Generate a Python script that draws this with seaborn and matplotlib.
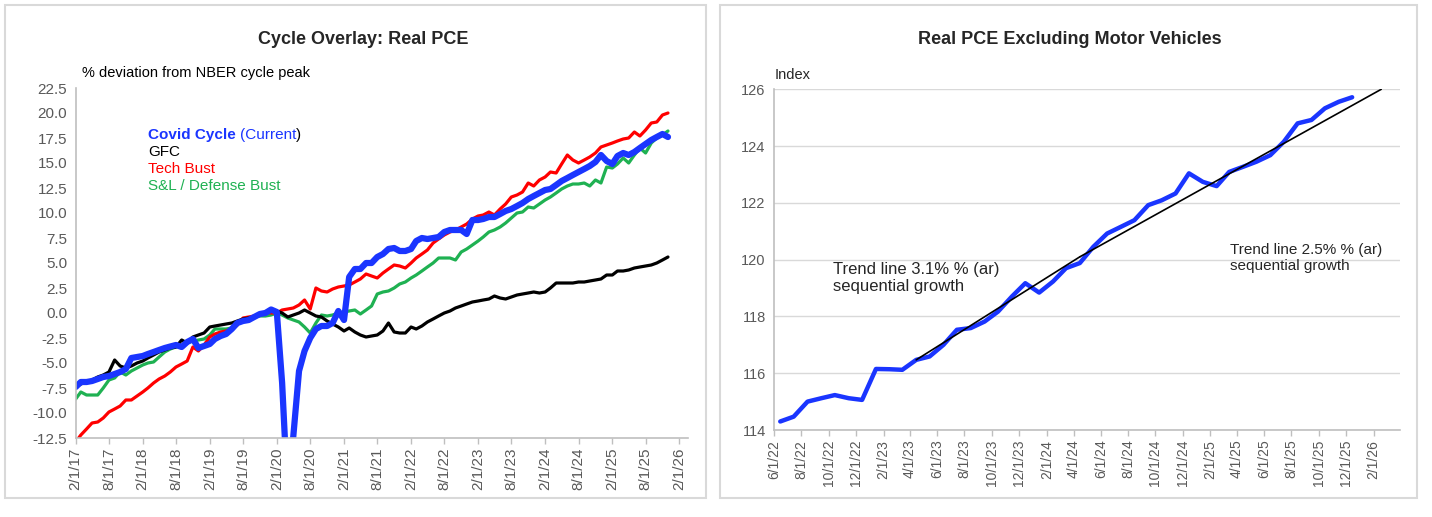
import pandas as pd
import seaborn as sns
import matplotlib.pyplot as plt
import matplotlib.dates as mdates
from matplotlib.patches import Rectangle
from matplotlib.ticker import FuncFormatter

# left panel: % deviation from NBER cycle peak, monthly from 2/1/17
covid = [-7.4, -6.9, -6.9, -6.8, -6.6, -6.4, -6.3, -6.1, -5.9, -5.6, -4.5, -4.4,
         -4.3, -4.1, -3.9, -3.7, -3.5, -3.35, -3.2, -3.4, -2.9, -2.6, -3.5, -3.3,
         -3.1, -2.6, -2.3, -2.1, -1.6, -1.0, -0.8, -0.7, -0.4, -0.1, 0.0, 0.35,
         0.1, -7.0, -18.5, -12.3, -5.8, -3.8, -2.5, -1.6, -1.3, -1.3, -1.0, 0.2,
         -0.7, 3.6, 4.4, 4.4, 5.0, 5.0, 5.6, 5.9, 6.4, 6.5, 6.2, 6.2,
         6.4, 7.2, 7.5, 7.4, 7.5, 7.6, 8.1, 8.3, 8.3, 8.3, 7.9, 9.3,
         9.3, 9.4, 9.6, 9.6, 9.9, 10.2, 10.4, 10.7, 11.0, 11.4, 11.7, 12.0,
         12.3, 12.4, 12.8, 13.2, 13.5, 13.8, 14.1, 14.4, 14.7, 15.1, 15.8, 15.2,
         14.9, 15.7, 16.0, 15.8, 16.1, 16.5, 16.9, 17.3, 17.6, 17.9, 17.6]
gfc = [-7.4, -7.1, -6.9, -6.7, -6.4, -6.2, -5.9, -4.7, -5.3, -5.5, -5.3, -5.0,
       -4.8, -4.5, -4.2, -3.9, -3.7, -3.5, -3.4, -2.7, -3.0, -2.4, -2.2, -2.0,
       -1.4, -1.3, -1.2, -1.1, -1.0, -0.8, -0.6, -0.5, -0.4, -0.2, 0.0, 0.2,
       0.2, 0.0, -0.4, -0.2, 0.0, 0.3, 0.0, -0.3, -0.4, -0.8, -1.1, -1.4,
       -1.8, -1.5, -1.9, -2.2, -2.4, -2.3, -2.2, -1.8, -1.0, -1.9, -2.0, -2.0,
       -1.4, -1.6, -1.3, -0.9, -0.6, -0.3, 0.0, 0.2, 0.5, 0.7, 0.9, 1.1,
       1.2, 1.3, 1.4, 1.7, 1.5, 1.4, 1.6, 1.8, 1.9, 2.0, 2.1, 2.0,
       2.1, 2.5, 3.0, 3.0, 3.0, 3.0, 3.1, 3.1, 3.2, 3.3, 3.4, 3.8,
       3.8, 4.2, 4.2, 4.3, 4.5, 4.6, 4.7, 4.8, 5.0, 5.3, 5.6]
tech = [-12.9, -12.2, -11.6, -11.0, -10.9, -10.5, -9.9, -9.6, -9.3, -8.7, -8.7, -8.3,
        -7.9, -7.5, -7.0, -6.6, -6.3, -5.9, -5.4, -5.1, -4.8, -3.4, -3.8, -3.2,
        -2.4, -2.1, -1.9, -1.8, -1.6, -1.2, -0.5, -0.4, -0.3, -0.1, 0.1, 0.0,
        0.0, 0.3, 0.4, 0.5, 0.8, 1.3, 0.4, 2.5, 2.2, 2.1, 2.4, 2.6,
        2.7, 2.8, 3.1, 3.4, 3.9, 3.7, 3.5, 4.0, 4.4, 4.8, 4.7, 4.5,
        5.0, 5.5, 5.9, 6.3, 7.0, 7.4, 7.8, 8.1, 8.3, 8.6, 8.9, 9.4,
        9.7, 9.8, 10.1, 9.8, 10.4, 10.9, 11.6, 11.8, 12.1, 13.0, 12.7, 13.3,
        13.6, 14.1, 14.0, 14.9, 15.8, 15.3, 15.0, 15.3, 15.6, 16.0, 16.6, 16.8,
        17.0, 17.2, 17.4, 17.5, 18.1, 17.7, 18.3, 19.0, 19.1, 19.8, 20.0]
snl = [-8.6, -7.9, -8.2, -8.2, -8.2, -7.5, -6.7, -6.5, -5.9, -6.2, -5.8, -5.5,
       -5.2, -5.0, -4.9, -4.4, -3.9, -3.6, -3.4, -3.3, -3.0, -2.8, -2.7, -2.6,
       -2.2, -1.6, -1.6, -1.6, -1.5, -0.9, -0.7, -0.7, -0.4, -0.3, -0.3, -0.2,
       0.0, -0.2, -0.5, -0.7, -0.9, -1.4, -2.0, -1.0, -0.2, -0.3, -0.2, 0.0,
       0.1, 0.2, 0.3, -0.1, 0.3, 0.7, 1.9, 2.1, 2.2, 2.5, 2.9, 3.1,
       3.5, 3.8, 4.2, 4.6, 5.0, 5.5, 5.5, 5.5, 5.3, 6.1, 6.4, 6.8,
       7.2, 7.6, 8.1, 8.3, 8.6, 9.0, 9.5, 10.0, 10.1, 10.6, 10.5, 10.9,
       11.3, 11.6, 12.0, 12.4, 12.7, 12.9, 12.9, 13.0, 12.7, 13.3, 13.0, 14.6,
       14.5, 14.9, 15.5, 15.0, 15.8, 16.5, 16.0, 17.0, 17.5, 17.8, 18.2]
months = pd.date_range('2017-02-01', periods=len(covid), freq='MS')

# right panel: real PCE excluding motor vehicles (index), plotted mid-month
pce_ex_mv = [114.3, 114.47, 115.0, 115.12, 115.23, 115.12, 115.06, 116.15, 116.14, 116.12,
             116.47, 116.59, 117.0, 117.53, 117.59, 117.82, 118.17, 118.7, 119.17, 118.84,
             119.23, 119.7, 119.88, 120.45, 120.92, 121.15, 121.39, 121.92, 122.09, 122.33,
             123.04, 122.74, 122.59, 123.09, 123.27, 123.45, 123.68, 124.15, 124.8, 124.92,
             125.33, 125.56, 125.72]
pce_dates = pd.date_range('2022-06-01', periods=len(pce_ex_mv), freq='MS') + pd.Timedelta(days=14)
trend1_dates = pd.to_datetime(['2023-04-15', '2024-04-15'])
trend1_vals = [116.47, 120.1]
trend2_dates = pd.to_datetime(['2024-04-15', '2026-02-18'])
trend2_vals = [120.1, 126.0]

sns.set_theme(style='white')
plt.rcParams['font.family'] = ['Liberation Sans', 'DejaVu Sans']
plt.rcParams['axes.unicode_minus'] = False

W, H = 1432, 517
fig = plt.figure(figsize=(W / 100, H / 100), dpi=100)
blue = '#1a35ff'
grey = '#595959'
axis_col = '#bfbfbf'


def fx(px):
    return px / W


def fy(py):
    return 1 - py / H


def date_fmt(x, pos):
    d = mdates.num2date(x)
    return f'{d.month}/{d.day}/{d.year % 100:02d}'


# panel frames
for x0, x1 in [(5, 706), (720, 1417)]:
    fig.patches.append(Rectangle((fx(x0), fy(498)), fx(x1 - x0), (498 - 5) / H,
                                 transform=fig.transFigure, fill=False,
                                 edgecolor='#d9d9d9', linewidth=1.5))

# ---------------- left panel ----------------
ax1 = fig.add_axes([fx(75.7), fy(438), fx(688 - 75.7), 350 / H])
sns.lineplot(x=months, y=snl, ax=ax1, color='#1fb152', linewidth=2.3)
sns.lineplot(x=months, y=tech, ax=ax1, color='#ff0000', linewidth=2.3)
sns.lineplot(x=months, y=gfc, ax=ax1, color='black', linewidth=2.3)
sns.lineplot(x=months, y=covid, ax=ax1, color=blue, linewidth=4.5)
ax1.set_ylim(-12.5, 22.5)
ax1.set_yticks([-12.5 + 2.5 * i for i in range(15)])
ax1.yaxis.set_major_formatter(FuncFormatter(lambda v, p: f'{v:.1f}'))
ax1.set_xlim(pd.Timestamp('2017-02-01'), pd.Timestamp('2026-03-20'))
ax1.set_xticks(pd.date_range('2017-02-01', '2026-02-01', freq='6MS'))
ax1.xaxis.set_major_formatter(FuncFormatter(date_fmt))
ax1.tick_params(axis='x', rotation=90, labelsize=11, colors=grey, length=4,
                width=1, direction='out', bottom=True, color=axis_col, pad=3)
ax1.tick_params(axis='y', labelsize=11, colors=grey, length=0, pad=6)
for s in ['top', 'right']:
    ax1.spines[s].set_visible(False)
for s in ['left', 'bottom']:
    ax1.spines[s].set_color(axis_col)
    ax1.spines[s].set_linewidth(1.2)
ax1.set_xlabel('')
ax1.set_ylabel('')

fig.text(fx(363), fy(40), 'Cycle Overlay: Real PCE', ha='center', va='center',
         fontsize=13, fontweight='bold')
fig.text(fx(82), fy(73), '% deviation from NBER cycle peak', ha='left', va='center',
         fontsize=10.5, color='black')

# hand-made legend
renderer = fig.canvas.get_renderer()
t1 = fig.text(fx(148), fy(135), 'Covid Cycle', ha='left', va='center', fontsize=11,
              fontweight='bold', color=blue)
bb = t1.get_window_extent(renderer)
t2 = fig.text(bb.x1 / W + fx(4), fy(135), '(Current', ha='left', va='center',
              fontsize=11, color=blue)
bb = t2.get_window_extent(renderer)
fig.text(bb.x1 / W, fy(135), ')', ha='left', va='center', fontsize=11, color='black')
fig.text(fx(148), fy(152), 'GFC', ha='left', va='center', fontsize=11, color='black')
fig.text(fx(148), fy(169), 'Tech Bust', ha='left', va='center', fontsize=11, color='#ff0000')
fig.text(fx(148), fy(186), 'S&L / Defense Bust', ha='left', va='center', fontsize=11,
         color='#1fb152')

# ---------------- right panel ----------------
ax2 = fig.add_axes([fx(774), fy(430), fx(1400 - 774), (430 - 89.3) / H])
sns.lineplot(x=pce_dates, y=pce_ex_mv, ax=ax2, color=blue, linewidth=3.2)
sns.lineplot(x=trend1_dates, y=trend1_vals, ax=ax2, color='black', linewidth=1.2)
sns.lineplot(x=trend2_dates, y=trend2_vals, ax=ax2, color='black', linewidth=1.2)
ax2.set_ylim(114, 126)
ax2.set_yticks(range(114, 127, 2))
ax2.set_xlim(pd.Timestamp('2022-06-01'), pd.Timestamp('2026-04-01'))
ax2.set_xticks(pd.date_range('2022-06-01', '2026-02-01', freq='2MS'))
ax2.xaxis.set_major_formatter(FuncFormatter(date_fmt))
ax2.grid(axis='y', color='#d9d9d9', linewidth=1)
ax2.tick_params(axis='x', rotation=90, labelsize=10, colors=grey, length=4,
                width=1, direction='out', bottom=True, color=axis_col, pad=3)
ax2.tick_params(axis='y', labelsize=10.5, colors=grey, length=0, pad=6)
for s in ['top', 'right']:
    ax2.spines[s].set_visible(False)
for s in ['left', 'bottom']:
    ax2.spines[s].set_color(axis_col)
    ax2.spines[s].set_linewidth(1.2)
ax2.set_xlabel('')
ax2.set_ylabel('')

fig.text(fx(1070), fy(40), 'Real PCE Excluding Motor Vehicles', ha='center', va='center',
         fontsize=13, fontweight='bold')
fig.text(fx(775), fy(75), 'Index', ha='left', va='center', fontsize=10.5)
fig.text(fx(833), fy(262), 'Trend line 3.1% % (ar)\nsequential growth', ha='left',
         va='top', fontsize=12, linespacing=1.15)
fig.text(fx(1230), fy(243), 'Trend line 2.5% % (ar)\nsequential growth', ha='left',
         va='top', fontsize=11, linespacing=1.15)

fig.savefig('out.png', dpi=100)
